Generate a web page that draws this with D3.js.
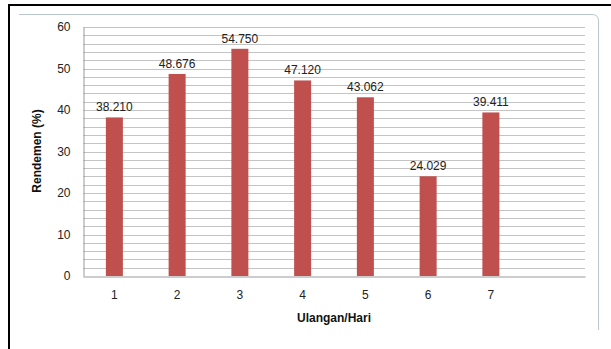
<!DOCTYPE html>
<html><head><meta charset="utf-8">
<script src="https://cdn.jsdelivr.net/npm/d3@7/dist/d3.min.js"></script>
<style>body{margin:0;background:#fff;}svg{display:block;font-family:Arial,"Liberation Sans",sans-serif;}</style>
</head><body><svg id="c" width="611" height="349"></svg>
<script>
const categories = ["1","2","3","4","5","6","7"];
const values = [38.210, 48.676, 54.750, 47.120, 43.062, 24.029, 39.411];
const valueLabels = ["38.210","48.676","54.750","47.120","43.062","24.029","39.411"];
const yTicks = [0,10,20,30,40,50,60];
const gridValues = d3.range(0, 61, 2);

const svg = d3.select("#c");
// outer black border
svg.append("line").attr("x1",8).attr("x2",611).attr("y1",5).attr("y2",5).attr("stroke","#000").attr("stroke-width",2);
svg.append("line").attr("x1",9).attr("x2",9).attr("y1",4).attr("y2",349).attr("stroke","#000").attr("stroke-width",2);
// inner frame
svg.append("path").attr("d","M19,14.5 L592,14.5 Q598.5,14.5 598.5,21 L598.5,330").attr("fill","none").attr("stroke","#b9c7cc").attr("stroke-width",1);

const pL = 83, pR = 585, pT = 27, pB = 276;
const xBand = d3.scaleBand().domain(["1","2","3","4","5","6","7","8"]).range([pL,pR]).paddingInner(0).paddingOuter(0);
const y = d3.scaleLinear().domain([0,60]).range([pB,pT]);

// gridlines
svg.append("g").selectAll("line").data(gridValues.filter(v=>v>0)).join("line")
  .attr("x1",pL).attr("x2",pR)
  .attr("y1",d=>Math.round(y(d))+0.5).attr("y2",d=>Math.round(y(d))+0.5)
  .attr("stroke","#c4c4c4").attr("stroke-width",1);

// axes
const yAxis = d3.axisLeft(y).tickValues(yTicks).tickSize(0).tickPadding(13);
const gy = svg.append("g").attr("transform",`translate(${pL+0.5},0)`).call(yAxis);
gy.select(".domain").attr("stroke","#9a9a9a");
gy.selectAll("text").attr("font-size",12).attr("fill","#222").attr("font-family","Arial,'Liberation Sans',sans-serif");

const xAxis = d3.axisBottom(xBand).tickValues(categories).tickSize(0).tickPadding(14);
const gx = svg.append("g").attr("transform",`translate(0,${pB+0.5})`).call(xAxis);
gx.select(".domain").attr("stroke","#9a9a9a");
gx.selectAll("text").attr("font-size",12).attr("fill","#222").attr("font-family","Arial,'Liberation Sans',sans-serif");

// bars
const barW = 17;
svg.append("g").selectAll("rect").data(values).join("rect")
  .attr("x",(d,i)=>xBand(categories[i])+xBand.bandwidth()/2-barW/2)
  .attr("y",d=>y(d))
  .attr("width",barW)
  .attr("height",d=>pB-y(d))
  .attr("fill","#c0504d");

svg.append("g").selectAll("text").data(values).join("text")
  .attr("x",(d,i)=>xBand(categories[i])+xBand.bandwidth()/2)
  .attr("y",d=>y(d)-6)
  .attr("text-anchor","middle").attr("font-size",12).attr("fill","#222")
  .text((d,i)=>valueLabels[i]);

// titles
svg.append("text").attr("x",334).attr("y",322).attr("text-anchor","middle")
  .attr("font-size",12).attr("font-weight","bold").attr("fill","#111").text("Ulangan/Hari");
svg.append("text").attr("transform","translate(41,151) rotate(-90)").attr("text-anchor","middle")
  .attr("font-size",12).attr("font-weight","bold").attr("fill","#111").text("Rendemen (%)");
</script></body></html>
